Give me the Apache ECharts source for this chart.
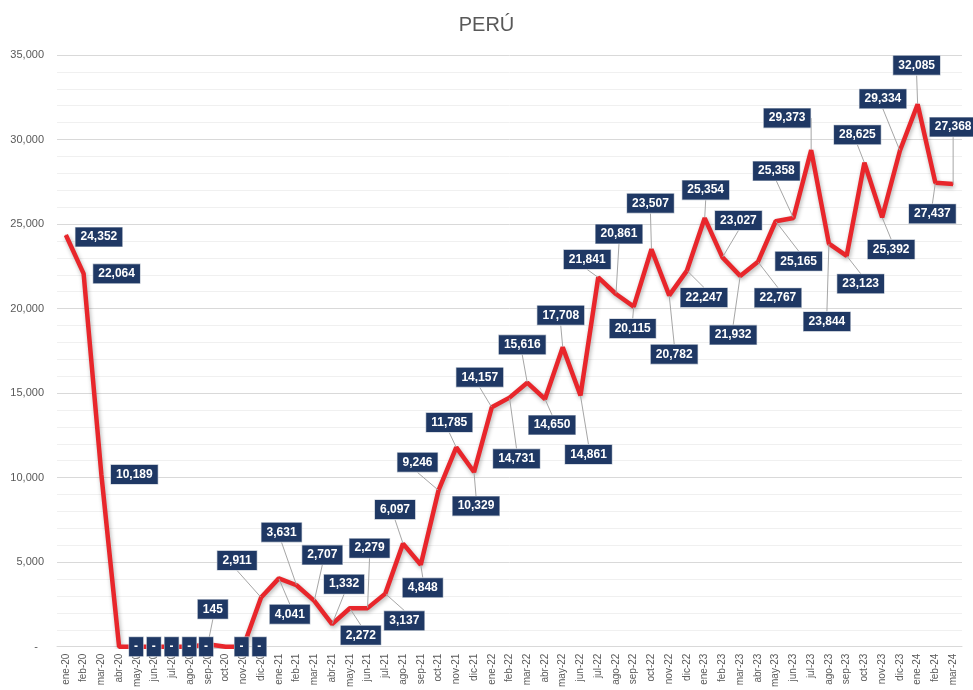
<!DOCTYPE html>
<html>
<head>
<meta charset="utf-8">
<script src="https://cdn.jsdelivr.net/npm/echarts@6/dist/echarts.min.js"></script>
<style>
html,body{margin:0;padding:0;background:#fff;}
#chart{width:973px;height:690px;}
</style>
</head>
<body>
<div id="chart"></div>
<script>
var categories = ['ene-20','feb-20','mar-20','abr-20','may-20','jun-20','jul-20','ago-20','sep-20','oct-20','nov-20','dic-20',
  'ene-21','feb-21','mar-21','abr-21','may-21','jun-21','jul-21','ago-21','sep-21','oct-21','nov-21','dic-21',
  'ene-22','feb-22','mar-22','abr-22','may-22','jun-22','jul-22','ago-22','sep-22','oct-22','nov-22','dic-22',
  'ene-23','feb-23','mar-23','abr-23','may-23','jun-23','jul-23','ago-23','sep-23','oct-23','nov-23','dic-23',
  'ene-24','feb-24','mar-24'];

var values = [24352,22064,10189,0,0,0,0,0,145,0,0,2911,
  4041,3631,2707,1332,2272,2279,3137,6097,4848,9246,11785,10329,
  14157,14731,15616,14650,17708,14861,21841,20861,20115,23507,20782,22247,
  25354,23027,21932,22767,25165,25358,29373,23844,23123,28625,25392,29334,
  32085,27437,27368];

var yTicks = [0,5000,10000,15000,20000,25000,30000,35000];

// label offsets (style/layout only), relative to each point
var labelOffsets = [[33,2],[33,0],[33,0],[17,0],[17,0],[17,0],[17,0],[16,0],[5,-35],[16,0],[16,0],[-24,-37],
  [11,36],[-15,-53],[8,-46],[12,-40],[11,27],[2,-60],[19,27],[-8,-34],[2,23],[-21,-28],[-7,-25],[2,34],
  [-12,-30],[7,61],[-5,-38],[7,26],[-2,-32],[8,59],[-11,-18],[3,-60],[-1,22],[-1,-46],[5,59],[17,27],
  [1,-28],[16,-37],[-7,59],[20,36],[23,40],[-17,-47],[-24,-32],[-2,78],[14,28],[-7,-28],[9,32],[-17,-52],
  [-1,-39],[-3,31],[0,-57]];
var noLeader = [0,1,2,3,4,5,6,7,9,10];

function fmt(v){ return v === 0 ? '-' : v.toLocaleString('en-US'); }

var seriesData = values.map(function(v, i){
  var item = { value: v };
  if (noLeader.indexOf(i) >= 0) item.labelLine = { show: false };
  return item;
});

var chart = echarts.init(document.getElementById('chart'), null, {renderer:'canvas'});
chart.setOption({
  backgroundColor: '#ffffff',
  animation: false,
  title: {
    text: 'PERÚ',
    left: 'center',
    top: 10,
    textStyle: { color: '#595959', fontSize: 20, fontWeight: 'normal', fontFamily: 'Liberation Sans, Arial, sans-serif' }
  },
  grid: { left: 57, right: 11, top: 55, bottom: 39, containLabel: false },
  xAxis: {
    type: 'category',
    data: categories,
    boundaryGap: true,
    axisLine: { show: true, lineStyle: { color: '#d9d9d9', width: 1 } },
    axisTick: { show: false },
    axisLabel: {
      interval: 0, rotate: 90, margin: 7,
      color: '#595959', fontSize: 10, fontFamily: 'Liberation Sans, Arial, sans-serif'
    },
    splitLine: { show: false }
  },
  yAxis: {
    type: 'value',
    min: yTicks[0],
    max: yTicks[yTicks.length - 1],
    interval: 5000,
    axisLine: { show: false },
    axisTick: { show: false },
    axisLabel: {
      margin: 13, color: '#595959', fontSize: 11, fontFamily: 'Liberation Sans, Arial, sans-serif',
      formatter: function(v){ return v === 0 ? '-  ' : v.toLocaleString('en-US'); }
    },
    splitLine: { show: true, lineStyle: { color: '#d9d9d9', width: 1 } },
    minorTick: { show: false, splitNumber: 5 },
    minorSplitLine: { show: true, lineStyle: { color: '#f0f0f0', width: 1 } }
  },
  series: [{
    type: 'line',
    data: seriesData,
    showSymbol: true,
    showAllSymbol: true,
    symbol: 'circle',
    symbolSize: 1,
    itemStyle: { color: '#E8262B' },
    lineStyle: {
      color: '#E8262B', width: 4.5,
      shadowColor: 'rgba(0,0,0,0.3)', shadowBlur: 4, shadowOffsetX: 1, shadowOffsetY: 2
    },
    label: {
      show: true,
      position: 'inside',
      formatter: function(p){ return fmt(p.value); },
      color: '#ffffff',
      fontSize: 12,
      fontWeight: 'bold',
      fontFamily: 'Liberation Sans, Arial, sans-serif',
      backgroundColor: '#1F3864',
      borderColor: '#b8c0cc',
      borderWidth: 0.6,
      padding: [3, 5, 3, 5],
      lineHeight: 13
    },
    labelLine: {
      show: true,
      lineStyle: { color: '#a6a6a6', width: 1 }
    },
    labelLayout: function(params){
      var o = labelOffsets[params.dataIndex] || [0,0];
      return { dx: o[0], dy: o[1], hideOverlap: false };
    },
    z: 3
  }]
});
</script>
</body>
</html>
